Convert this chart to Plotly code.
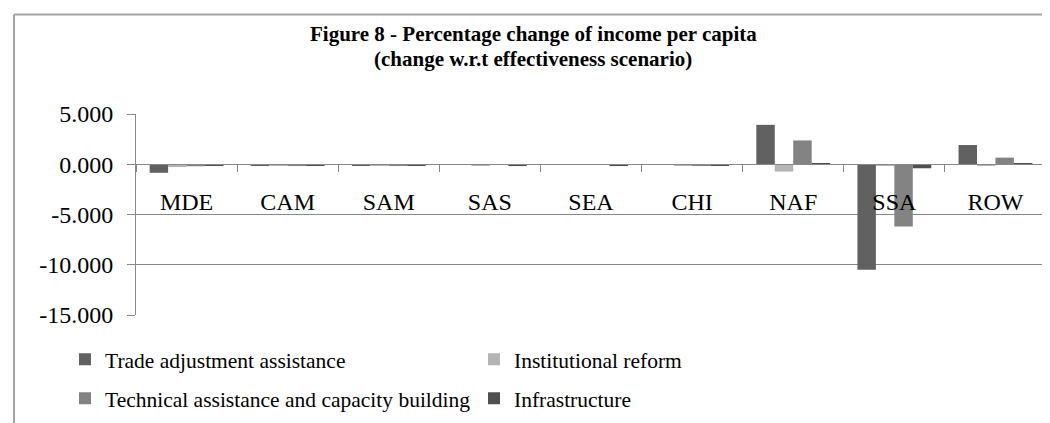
import plotly.graph_objects as go

# ---- data ----
regions = ["MDE", "CAM", "SAM", "SAS", "SEA", "CHI", "NAF", "SSA", "ROW"]
trade_adjustment = [-0.85, -0.12, -0.10, -0.05, -0.03, -0.05, 3.92, -10.50, 1.91]
institutional_reform = [-0.28, -0.10, -0.08, -0.10, -0.05, -0.10, -0.73, -0.10, -0.10]
technical_assistance = [-0.20, -0.12, -0.12, -0.05, -0.05, -0.08, 2.37, -6.20, 0.66]
infrastructure = [-0.15, -0.15, -0.15, -0.18, -0.18, -0.12, 0.08, -0.40, 0.08]

series_names = [
    "Trade adjustment assistance",
    "Institutional reform",
    "Technical assistance and capacity building",
    "Infrastructure",
]
series_colors = ["#616161", "#b4b4b4", "#838383", "#505050"]
series_legends = ["legend", "legend", "legend2", "legend2"]

y_tick_values = [5, 0, -5, -10, -15]
y_tick_labels = ["5.000", "0.000", "-5.000", "-10.000", "-15.000"]

title_line1 = "Figure 8 - Percentage change of income per capita"
title_line2 = "(change w.r.t effectiveness scenario)"

# ---- layout geometry (pixels) ----
W, H = 1050, 423
L, R, T, B = 128, 12, 106, 113
PW, PH = W - L - R, H - T - B


def px_x(p):
    return (p - L) / PW


def px_y(p):
    return (H - B - p) / PH


FONT = "Liberation Serif"
GRID = "#888888"

fig = go.Figure()
for name, vals, col, lg in zip(series_names,
                               [trade_adjustment, institutional_reform,
                                technical_assistance, infrastructure],
                               series_colors, series_legends):
    fig.add_trace(go.Bar(x=regions, y=vals, name=name, marker_color=col,
                         marker_line_width=0, legend=lg))

legend_common = dict(orientation="h", xanchor="left", yanchor="middle",
                     entrywidth=364, entrywidthmode="pixels",
                     font=dict(family=FONT, size=21.5, color="black"),
                     bgcolor="rgba(0,0,0,0)", traceorder="normal")

fig.update_layout(
    width=W, height=H,
    margin=dict(l=L, r=R, t=T, b=B),
    paper_bgcolor="white", plot_bgcolor="white",
    barmode="group", bargap=0.27, bargroupgap=0,
    font=dict(family=FONT, color="black"),
    showlegend=True,
    legend=dict(x=px_x(57), y=px_y(355), **legend_common),
    legend2=dict(x=px_x(57), y=px_y(394.5), **legend_common),
    xaxis=dict(type="category", anchor="free", position=0.75,
               showline=True, linecolor=GRID, linewidth=1,
               ticks="outside", tickson="boundaries", ticklen=7,
               tickcolor=GRID, tickwidth=1, showgrid=False,
               tickfont=dict(family=FONT, size=24, color="black"),
               ticklabelstandoff=16),
    yaxis=dict(range=[-15, 5], tickvals=y_tick_values, ticktext=y_tick_labels,
               showline=True, linecolor=GRID, linewidth=1,
               ticks="outside", ticklen=8, tickcolor=GRID, tickwidth=1,
               showgrid=True, gridcolor=GRID, gridwidth=1, zeroline=False,
               tickfont=dict(family=FONT, size=24, color="black"),
               ticklabelstandoff=9),
    annotations=[
        dict(text="<b>" + title_line1 + "</b>", xref="paper", yref="paper",
             x=px_x(525), y=px_y(25), xanchor="center", yanchor="middle",
             showarrow=False, font=dict(family=FONT, size=21, color="black")),
        dict(text="<b>" + title_line2 + "</b>", xref="paper", yref="paper",
             x=px_x(525), y=px_y(50), xanchor="center", yanchor="middle",
             showarrow=False, font=dict(family=FONT, size=21, color="black")),
    ],
    shapes=[
        dict(type="line", xref="paper", yref="paper",
             x0=px_x(6), x1=px_x(W + 2), y0=px_y(5), y1=px_y(5),
             line=dict(color="#a5a5a5", width=2)),
        dict(type="line", xref="paper", yref="paper",
             x0=px_x(6), x1=px_x(6), y0=px_y(5), y1=px_y(H + 2),
             line=dict(color="#a5a5a5", width=2)),
    ],
)

fig.write_html("out.html")
